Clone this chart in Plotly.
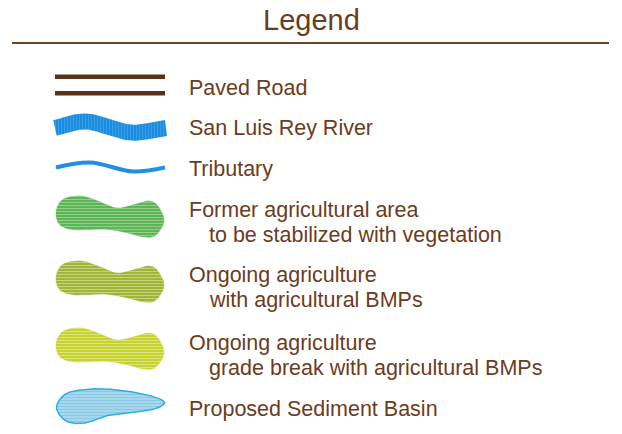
import numpy as np
import plotly.graph_objects as go

# ---- content ----
TITLE = "Legend"
LABELS = [
    ["Paved Road"],
    ["San Luis Rey River"],
    ["Tributary"],
    ["Former agricultural area", "to be stabilized with vegetation"],
    ["Ongoing agriculture", "with agricultural BMPs"],
    ["Ongoing agriculture", "grade break with agricultural BMPs"],
    ["Proposed Sediment Basin"],
]
ROW_CENTER = [88, 128, 169, 222, 287.5, 355.5, 409]
LINE_GAP = 25

TEXT_COLOR = "#6b3c1e"
FONT = "Arial, Liberation Sans, sans-serif"

W, H = 622, 434


def catmull(pts, n=24, closed=True):
    pts = np.asarray(pts, dtype=float)
    N = len(pts)
    out = []
    if closed:
        idx = [((i - 1) % N, i, (i + 1) % N, (i + 2) % N) for i in range(N)]
        P = pts
    else:
        P = np.vstack([2 * pts[0] - pts[1], pts, 2 * pts[-1] - pts[-2]])
        idx = [(i - 1, i, i + 1, i + 2) for i in range(1, N)]
    for a, bb, c, d in idx:
        p0, p1, p2, p3 = P[a], P[bb], P[c], P[d]
        for t in np.linspace(0, 1, n, endpoint=False):
            t2, t3 = t * t, t * t * t
            out.append(0.5 * (2 * p1 + (-p0 + p2) * t + (2 * p0 - 5 * p1 + 4 * p2 - p3) * t2
                              + (-p0 + 3 * p1 - 3 * p2 + p3) * t3))
    out.append(out[0] if closed else P[-2])
    return np.array(out)


def band(center, half):
    c = catmull(center, closed=False)
    d = np.gradient(c, axis=0)
    nrm = np.stack([-d[:, 1], d[:, 0]], axis=1)
    nrm /= np.linalg.norm(nrm, axis=1, keepdims=True)
    top = c + nrm * half
    bot = c - nrm * half
    return np.vstack([top, bot[::-1], top[:1]])


fig = go.Figure()

# paved road
for yy in (76.7, 93.3):
    fig.add_shape(type="line", x0=55, x1=165, y0=yy, y1=yy,
                  line=dict(color="#5a3116", width=4.5))

# river
river = band([(55, 128), (87, 121.5), (130, 132.5), (166, 128)], 8)
fig.add_trace(go.Scatter(x=river[:, 0], y=river[:, 1], mode="lines", fill="toself",
                         line=dict(width=0, color="#1a8de0"),
                         fillpattern=dict(shape="|", bgcolor="#1a8de0", fgcolor="#5fb0ea",
                                          size=3, solidity=0.15, fillmode="replace"),
                         hoverinfo="skip"))

# tributary
TRIB_X = [56, 90, 133, 165]
TRIB_Y = [167.5, 162.5, 171.5, 167.5]
fig.add_trace(go.Scatter(x=TRIB_X, y=TRIB_Y, mode="lines",
                         line=dict(width=4, color="#2290e0", shape="spline", smoothing=1.0),
                         hoverinfo="skip"))

# agricultural blobs
BLOB = [(0, 16), (6, 4), (20, 0), (34, 2), (60, 12), (80, 8), (93, 5), (102, 10),
        (108, 25), (100, 39), (88, 41), (68, 36), (48, 33), (20, 34), (4, 29)]
BLOB_TOP = [196, 261, 328]
BLOB_COLORS = [("#5db556", "#92d18a"), ("#a1b53b", "#c6d47c"), ("#c5d430", "#dde57c")]
for top, (bg, fg) in zip(BLOB_TOP, BLOB_COLORS):
    pts = [(56 + x, top + y) for x, y in BLOB]
    p = catmull(pts)
    fig.add_trace(go.Scatter(x=p[:, 0], y=p[:, 1], mode="lines", fill="toself",
                             line=dict(width=0.5, color=bg),
                             fillpattern=dict(shape="-", bgcolor=bg, fgcolor=fg,
                                              size=3, solidity=0.35, fillmode="replace"),
                             hoverinfo="skip"))

# sediment basin
BASIN = [(56.5, 408), (64, 395), (80, 390), (106.7, 389), (140, 393.3), (160, 399), (164, 404),
         (150, 410), (110, 415), (85, 423), (66, 421)]
b = catmull(BASIN)
fig.add_trace(go.Scatter(x=b[:, 0], y=b[:, 1], mode="lines", fill="toself",
                         line=dict(width=1.5, color="#2aaee2"),
                         fillpattern=dict(shape="-", bgcolor="#a8d7ec", fgcolor="#86c6e4",
                                          size=3, solidity=0.3, fillmode="replace"),
                         hoverinfo="skip"))

# labels
annotations = [dict(x=311, y=20, text=TITLE, showarrow=False, xanchor="center", yanchor="middle",
                    font=dict(family=FONT, size=29, color=TEXT_COLOR))]
for lines, yc in zip(LABELS, ROW_CENTER):
    n = len(lines)
    for i, t in enumerate(lines):
        y = yc + (i - (n - 1) / 2) * LINE_GAP
        annotations.append(dict(x=187 if i == 0 else 207, y=y, text=t, showarrow=False,
                                xanchor="left", yanchor="middle",
                                font=dict(family=FONT, size=21.5, color=TEXT_COLOR)))

fig.add_shape(type="line", x0=12, x1=609, y0=43, y1=43, line=dict(color="#6e4426", width=2))

fig.update_layout(
    width=W, height=H, margin=dict(l=0, r=0, t=0, b=0),
    paper_bgcolor="white", plot_bgcolor="white", showlegend=False,
    xaxis=dict(range=[0, W], visible=False, fixedrange=True),
    yaxis=dict(range=[H, 0], visible=False, fixedrange=True),
    annotations=annotations,
)

fig.write_html("out.html", config={"displayModeBar": False},
               post_script="document.body.style.margin='0';document.body.style.overflow='hidden';")
